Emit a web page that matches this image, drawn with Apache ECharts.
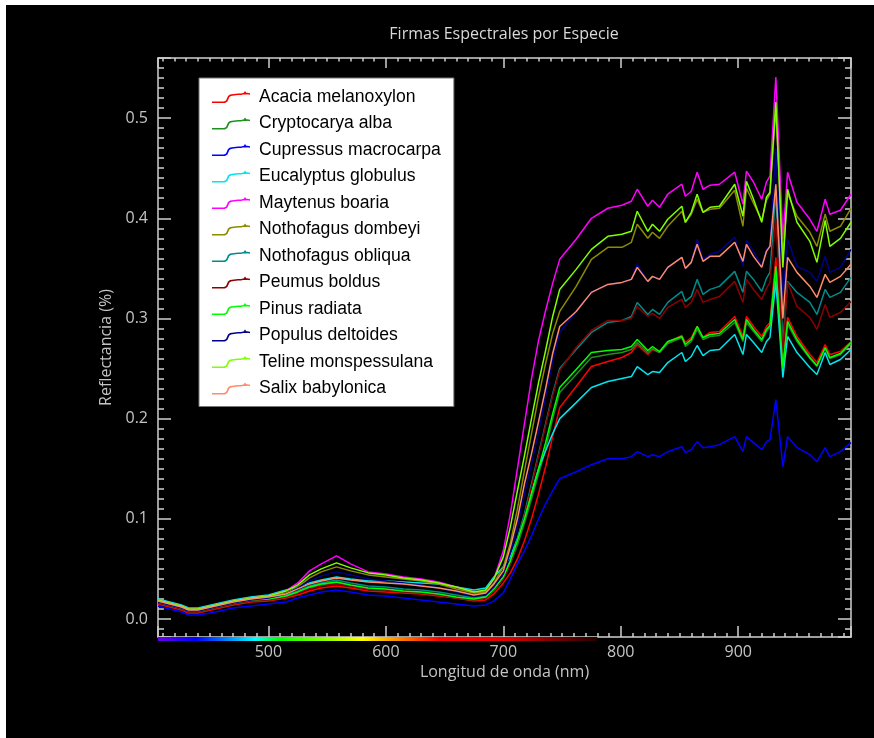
<!DOCTYPE html>
<html>
<head>
<meta charset="utf-8">
<script src="https://cdn.jsdelivr.net/npm/echarts@6.0.0/dist/echarts.min.js"></script>
<style>
  html, body { margin: 0; padding: 0; background: #ffffff; }
  #chart { position: absolute; left: 6px; top: 5px; width: 868px; height: 733px; }
</style>
</head>
<body>
<div id="chart"></div>
<script>
// longitudes de onda (nm)
const wavelengths = [406, 416, 426, 432, 440, 455, 470, 485, 500, 515, 525, 535, 545, 558, 570, 585, 600, 615, 630, 645, 660, 675, 685, 692,
  700, 706, 712, 718, 724, 730, 736, 742,
  748, 762, 775, 789, 801, 809, 814, 823, 827, 833, 840, 852, 855, 860, 865, 870, 876, 884, 897, 904,
  907, 913, 920, 924, 927, 932, 938, 942, 950, 961, 967, 974, 978, 987, 996]

// reflectancia por especie
const acacia = [0.015, 0.012, 0.009, 0.006, 0.006, 0.010, 0.014, 0.017, 0.018, 0.021, 0.024, 0.028, 0.031, 0.033, 0.031, 0.028, 0.027, 0.026, 0.025, 0.023, 0.021, 0.018, 0.019, 0.025,
  0.036, 0.046, 0.060, 0.078, 0.100, 0.125, 0.152, 0.182,
  0.211, 0.232, 0.252, 0.257, 0.261, 0.266, 0.274, 0.264, 0.269, 0.266, 0.276, 0.283, 0.276, 0.281, 0.292, 0.281, 0.286, 0.287, 0.302, 0.282,
  0.302, 0.292, 0.282, 0.292, 0.296, 0.361, 0.256, 0.301, 0.282, 0.264, 0.256, 0.274, 0.264, 0.267, 0.277]
const cryptocarya = [0.016, 0.013, 0.010, 0.007, 0.007, 0.011, 0.015, 0.018, 0.019, 0.022, 0.026, 0.031, 0.034, 0.036, 0.033, 0.030, 0.029, 0.027, 0.026, 0.024, 0.021, 0.019, 0.021, 0.028,
  0.040, 0.055, 0.074, 0.096, 0.120, 0.145, 0.170, 0.200,
  0.226, 0.244, 0.261, 0.264, 0.266, 0.269, 0.276, 0.266, 0.270, 0.266, 0.275, 0.281, 0.272, 0.277, 0.289, 0.279, 0.282, 0.283, 0.296, 0.277,
  0.296, 0.287, 0.277, 0.287, 0.291, 0.345, 0.252, 0.294, 0.277, 0.260, 0.252, 0.270, 0.260, 0.264, 0.275]
const cupressus = [0.013, 0.010, 0.007, 0.004, 0.004, 0.007, 0.011, 0.013, 0.015, 0.017, 0.021, 0.024, 0.027, 0.029, 0.027, 0.024, 0.023, 0.021, 0.019, 0.017, 0.015, 0.013, 0.014, 0.018,
  0.026, 0.040, 0.055, 0.068, 0.083, 0.100, 0.115, 0.128,
  0.140, 0.147, 0.154, 0.160, 0.160, 0.162, 0.167, 0.162, 0.164, 0.162, 0.167, 0.172, 0.166, 0.169, 0.177, 0.171, 0.172, 0.174, 0.182, 0.167,
  0.182, 0.176, 0.169, 0.177, 0.179, 0.219, 0.152, 0.182, 0.171, 0.164, 0.157, 0.171, 0.162, 0.167, 0.176]
const eucalyptus = [0.020, 0.017, 0.014, 0.011, 0.011, 0.015, 0.019, 0.022, 0.024, 0.029, 0.032, 0.036, 0.039, 0.042, 0.040, 0.038, 0.038, 0.037, 0.036, 0.035, 0.032, 0.029, 0.031, 0.042,
  0.052, 0.062, 0.080, 0.102, 0.126, 0.150, 0.168, 0.185,
  0.200, 0.216, 0.231, 0.237, 0.240, 0.242, 0.252, 0.244, 0.247, 0.246, 0.256, 0.266, 0.257, 0.262, 0.273, 0.263, 0.268, 0.269, 0.284, 0.264,
  0.284, 0.276, 0.266, 0.277, 0.281, 0.337, 0.241, 0.282, 0.266, 0.251, 0.244, 0.266, 0.254, 0.259, 0.269]
const maytenus = [0.019, 0.016, 0.013, 0.010, 0.010, 0.014, 0.018, 0.021, 0.023, 0.028, 0.036, 0.048, 0.055, 0.063, 0.055, 0.047, 0.045, 0.042, 0.040, 0.037, 0.032, 0.027, 0.028, 0.040,
  0.068, 0.105, 0.150, 0.195, 0.240, 0.278, 0.308, 0.335,
  0.359, 0.379, 0.400, 0.410, 0.413, 0.417, 0.429, 0.412, 0.418, 0.411, 0.424, 0.434, 0.422, 0.427, 0.446, 0.429, 0.433, 0.434, 0.446, 0.414,
  0.447, 0.436, 0.419, 0.436, 0.442, 0.541, 0.379, 0.446, 0.416, 0.399, 0.387, 0.419, 0.404, 0.408, 0.424]
const dombeyi = [0.018, 0.015, 0.012, 0.009, 0.009, 0.013, 0.017, 0.020, 0.022, 0.026, 0.032, 0.041, 0.047, 0.052, 0.048, 0.044, 0.042, 0.040, 0.038, 0.035, 0.030, 0.026, 0.027, 0.036,
  0.052, 0.076, 0.110, 0.148, 0.185, 0.222, 0.255, 0.285,
  0.307, 0.332, 0.359, 0.371, 0.371, 0.376, 0.394, 0.380, 0.386, 0.380, 0.392, 0.407, 0.396, 0.404, 0.419, 0.406, 0.409, 0.410, 0.428, 0.392,
  0.430, 0.415, 0.398, 0.418, 0.424, 0.510, 0.360, 0.425, 0.402, 0.386, 0.372, 0.404, 0.387, 0.392, 0.410]
const obliqua = [0.017, 0.014, 0.011, 0.008, 0.008, 0.012, 0.016, 0.019, 0.020, 0.024, 0.028, 0.033, 0.036, 0.039, 0.036, 0.033, 0.032, 0.030, 0.029, 0.027, 0.024, 0.021, 0.023, 0.031,
  0.042, 0.058, 0.080, 0.105, 0.135, 0.165, 0.195, 0.225,
  0.250, 0.269, 0.286, 0.296, 0.298, 0.302, 0.316, 0.304, 0.309, 0.304, 0.316, 0.327, 0.317, 0.322, 0.339, 0.324, 0.329, 0.332, 0.347, 0.326,
  0.347, 0.339, 0.327, 0.340, 0.346, 0.426, 0.275, 0.337, 0.326, 0.316, 0.304, 0.329, 0.321, 0.326, 0.341]
const peumus = [0.016, 0.013, 0.010, 0.007, 0.007, 0.011, 0.015, 0.018, 0.019, 0.022, 0.026, 0.030, 0.033, 0.035, 0.033, 0.030, 0.029, 0.027, 0.026, 0.024, 0.021, 0.019, 0.021, 0.029,
  0.040, 0.055, 0.077, 0.102, 0.132, 0.163, 0.193, 0.223,
  0.248, 0.271, 0.288, 0.298, 0.298, 0.300, 0.312, 0.302, 0.305, 0.300, 0.311, 0.319, 0.311, 0.316, 0.329, 0.316, 0.319, 0.322, 0.337, 0.316,
  0.339, 0.329, 0.319, 0.330, 0.336, 0.400, 0.265, 0.336, 0.312, 0.301, 0.289, 0.314, 0.301, 0.306, 0.317]
const pinus = [0.017, 0.014, 0.011, 0.008, 0.008, 0.012, 0.016, 0.019, 0.020, 0.023, 0.027, 0.032, 0.035, 0.037, 0.034, 0.031, 0.030, 0.028, 0.027, 0.025, 0.022, 0.020, 0.022, 0.030,
  0.042, 0.058, 0.078, 0.100, 0.125, 0.150, 0.176, 0.205,
  0.231, 0.249, 0.266, 0.268, 0.269, 0.272, 0.279, 0.268, 0.272, 0.267, 0.277, 0.282, 0.274, 0.279, 0.292, 0.281, 0.284, 0.285, 0.299, 0.279,
  0.299, 0.289, 0.279, 0.289, 0.293, 0.352, 0.250, 0.297, 0.279, 0.261, 0.253, 0.271, 0.261, 0.265, 0.276]
const populus = [0.017, 0.014, 0.011, 0.008, 0.008, 0.012, 0.016, 0.019, 0.021, 0.025, 0.031, 0.038, 0.043, 0.047, 0.044, 0.040, 0.038, 0.036, 0.034, 0.031, 0.027, 0.023, 0.024, 0.032,
  0.045, 0.066, 0.093, 0.125, 0.155, 0.187, 0.222, 0.258,
  0.286, 0.307, 0.326, 0.334, 0.336, 0.339, 0.354, 0.337, 0.342, 0.339, 0.351, 0.361, 0.350, 0.356, 0.379, 0.359, 0.364, 0.367, 0.381, 0.352,
  0.378, 0.367, 0.352, 0.369, 0.372, 0.470, 0.320, 0.379, 0.352, 0.346, 0.337, 0.362, 0.346, 0.351, 0.369]
const teline = [0.019, 0.016, 0.013, 0.010, 0.010, 0.014, 0.018, 0.021, 0.023, 0.028, 0.034, 0.044, 0.050, 0.056, 0.051, 0.046, 0.044, 0.041, 0.039, 0.036, 0.032, 0.027, 0.029, 0.040,
  0.062, 0.092, 0.128, 0.163, 0.200, 0.236, 0.268, 0.302,
  0.329, 0.349, 0.369, 0.382, 0.384, 0.387, 0.407, 0.387, 0.394, 0.387, 0.399, 0.412, 0.396, 0.406, 0.424, 0.406, 0.411, 0.412, 0.434, 0.402,
  0.437, 0.419, 0.396, 0.421, 0.426, 0.516, 0.351, 0.429, 0.396, 0.377, 0.356, 0.398, 0.372, 0.380, 0.396]
const salix = [0.018, 0.015, 0.012, 0.009, 0.009, 0.013, 0.017, 0.020, 0.022, 0.025, 0.030, 0.035, 0.038, 0.041, 0.039, 0.037, 0.036, 0.035, 0.033, 0.031, 0.028, 0.024, 0.026, 0.035,
  0.048, 0.072, 0.100, 0.135, 0.165, 0.197, 0.230, 0.265,
  0.292, 0.307, 0.326, 0.334, 0.336, 0.339, 0.351, 0.337, 0.342, 0.339, 0.351, 0.361, 0.350, 0.356, 0.374, 0.357, 0.362, 0.362, 0.376, 0.357,
  0.374, 0.362, 0.351, 0.367, 0.372, 0.434, 0.300, 0.361, 0.346, 0.332, 0.321, 0.344, 0.336, 0.342, 0.354]

const especies = ['Acacia melanoxylon', 'Cryptocarya alba', 'Cupressus macrocarpa', 'Eucalyptus globulus',
  'Maytenus boaria', 'Nothofagus dombeyi', 'Nothofagus obliqua', 'Peumus boldus',
  'Pinus radiata', 'Populus deltoides', 'Teline monspessulana', 'Salix babylonica']
const valores = [acacia, cryptocarya, cupressus, eucalyptus, maytenus, dombeyi, obliqua, peumus, pinus, populus, teline, salix]
const colores = ['#ff0000', '#1f8f1f', '#0000ff', '#00e5ee', '#ff00ff', '#8b8b00', '#008b8b', '#8b0000', '#00ff00', '#00008b', '#7fff00', '#ff8c69']

// barra de color del espectro visible
const barraNm = [406, 440, 490, 510, 580, 645, 700, 780]
const barraColores = ['#7000e0', '#0000ff', '#00ffff', '#00ff00', '#ffff00', '#ff0000', '#e00000', '#200000']

const ejeColor = '#cfcfcf'
const textoColor = '#c4c4c4'
const iconoLegend = 'path://M0,10.5 L12,10.5 L14,9.5 L16,5 L18,3.5 L22,3 L26,2.5 L29,2.5 L31,2 L34,1.5 L38,2.2 L38,3.7 L34,3 L31,3.5 L29,4 L26,4 L22,4.5 L19,5 L17.4,6 L15.4,10.5 L13,12 L0,12 Z M33,0 L35.5,3.5 L30.5,3.5 Z'

const chart = echarts.init(document.getElementById('chart'))

const series = especies.map((name, i) => ({
  name,
  type: 'line',
  data: wavelengths.map((w, j) => [w, valores[i][j]]),
  symbol: 'none',
  showSymbol: false,
  lineStyle: { width: 1.5, color: colores[i] },
  itemStyle: { color: colores[i] },
  z: 3
}))

series.push({
  name: 'espectro',
  type: 'line',
  data: [[barraNm[0], -0.02], [barraNm[barraNm.length - 1], -0.02]],
  symbol: 'none',
  clip: false,
  silent: true,
  lineStyle: {
    width: 4,
    color: {
      type: 'linear', x: 0, y: 0, x2: 1, y2: 0,
      colorStops: barraNm.map((nm, k) => ({
        offset: (nm - barraNm[0]) / (barraNm[barraNm.length - 1] - barraNm[0]),
        color: barraColores[k]
      }))
    }
  },
  z: 4
})

const ejeX = (pos, tickLen, minorLen, labels) => ({
  type: 'value',
  position: pos,
  min: 406,
  max: 996,
  splitNumber: 5,
  axisLine: { show: true, onZero: false, lineStyle: { color: ejeColor, width: 1.5 } },
  axisTick: { show: true, inside: true, length: tickLen, lineStyle: { color: ejeColor, width: 1.5 } },
  minorTick: { show: true, splitNumber: 10, length: minorLen, lineStyle: { color: ejeColor, width: 1.5 } },
  splitLine: { show: false },
  axisLabel: {
    show: labels,
    showMinLabel: false,
    showMaxLabel: false,
    margin: 7,
    color: textoColor,
    fontFamily: 'Open Sans',
    fontSize: 16,
    formatter: v => (v % 100 === 0 ? String(v) : '')
  }
})

const ejeY = (pos, labels) => ({
  type: 'value',
  position: pos,
  min: -0.018,
  max: 0.56,
  splitNumber: 5,
  axisLine: { show: true, onZero: false, lineStyle: { color: ejeColor, width: 1.5 } },
  axisTick: { show: true, inside: true, length: 13, lineStyle: { color: ejeColor, width: 1.5 } },
  minorTick: { show: true, splitNumber: 10, length: 6, lineStyle: { color: ejeColor, width: 1.5 } },
  splitLine: { show: false },
  axisLabel: {
    show: labels,
    showMinLabel: false,
    showMaxLabel: false,
    margin: 10,
    padding: [3, 0, 0, 0],
    color: textoColor,
    fontFamily: 'Open Sans',
    fontSize: 16,
    formatter: v => (Math.abs(v * 10 - Math.round(v * 10)) < 1e-6 ? v.toFixed(1) : '')
  }
})

const xBottom = ejeX('bottom', 11, 4, true)
xBottom.name = 'Longitud de onda (nm)'
xBottom.nameLocation = 'middle'
xBottom.nameGap = 25
xBottom.nameTextStyle = { color: textoColor, fontFamily: 'Open Sans', fontSize: 16 }

const yLeft = ejeY('left', true)
yLeft.name = 'Reflectancia (%)'
yLeft.nameLocation = 'middle'
yLeft.nameGap = 42
yLeft.nameTextStyle = { color: textoColor, fontFamily: 'Open Sans', fontSize: 16 }

chart.setOption({
  backgroundColor: '#000000',
  animation: false,
  title: {
    text: 'Firmas Espectrales por Especie',
    left: 498,
    top: 21,
    textAlign: 'center',
    padding: 0,
    textStyle: { color: '#d9d9d9', fontFamily: 'Open Sans', fontSize: 16, fontWeight: 'normal' }
  },
  legend: {
    orient: 'vertical',
    left: 193,
    top: 73,
    data: especies.map(name => ({ name, icon: iconoLegend })),
    itemWidth: 38,
    itemHeight: 12,
    itemGap: 8.5,
    padding: [10, 13, 9, 13],
    backgroundColor: '#ffffff',
    borderColor: '#777777',
    borderWidth: 1,
    borderRadius: 0,
    textStyle: { color: '#000000', fontFamily: 'Liberation Sans', fontSize: 17.6, lineHeight: 18, padding: [0, 0, 0, 4] }
  },
  grid: { left: 152, top: 53, width: 693, height: 579, containLabel: false, outerBoundsMode: 'none' },
  xAxis: [xBottom, ejeX('top', 10, 3.5, false)],
  yAxis: [yLeft, ejeY('right', false)],
  series
})
</script>
</body>
</html>
